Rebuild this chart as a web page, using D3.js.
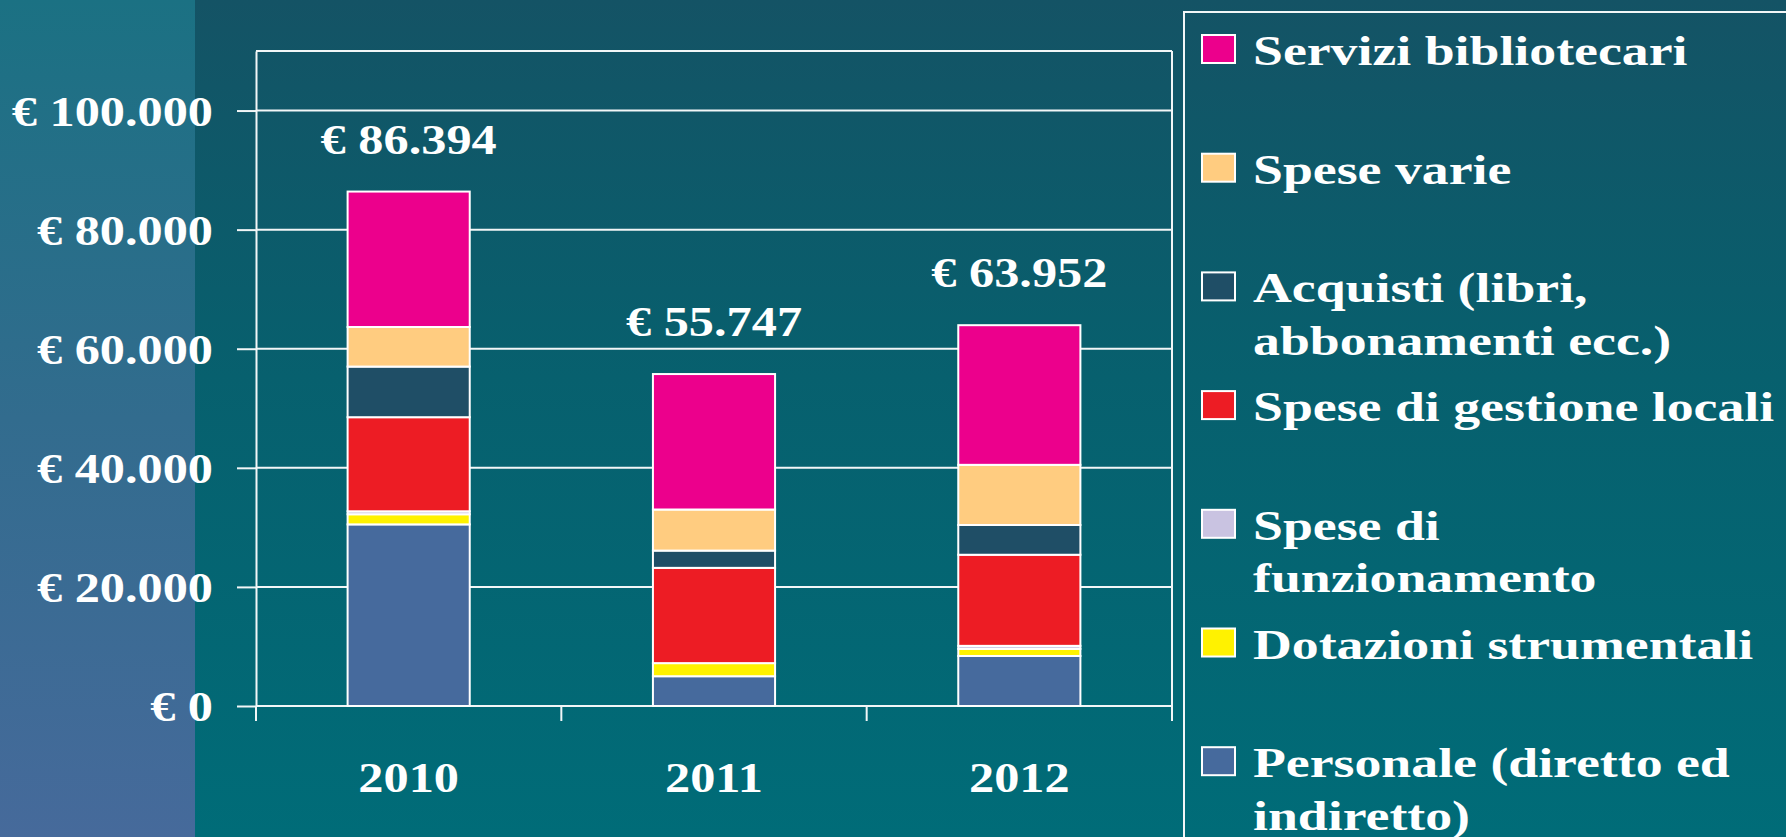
<!DOCTYPE html>
<html>
<head>
<meta charset="utf-8">
<script src="https://cdn.jsdelivr.net/npm/d3@7"></script>
<style>
  html, body { margin: 0; padding: 0; overflow: hidden; background: #0a5f6c; }
  svg text { font-family: "Liberation Serif", "Times New Roman", serif; font-weight: bold; fill: #ffffff; }
</style>
</head>
<body>
<svg id="chart" width="1786" height="837"></svg>
<script>
// Cost breakdown per year (euro)
const years = ["2010", "2011", "2012"];
const personale = [30500, 5000, 8400];
const dotazioniStrumentali = [1700, 2200, 1200];
const speseFunzionamento = [500, 0, 500];
const speseGestioneLocali = [15800, 16000, 15300];
const acquisti = [8500, 2900, 5000];
const speseVarie = [6650, 6900, 10100];
const serviziBibliotecari = [22744, 22747, 23452];

const yTicks = [0, 20000, 40000, 60000, 80000, 100000];

// stacking order, bottom to top
const seriesKeys = ["personale", "dotazioni", "funzionamento", "gestione", "acquisti", "varie", "servizi"];
const seriesValues = [personale, dotazioniStrumentali, speseFunzionamento, speseGestioneLocali, acquisti, speseVarie, serviziBibliotecari];
const seriesColors = ["#466a9d", "#fff200", "#c9c3e1", "#ed1c24", "#1f4e66", "#ffcc80", "#ec008c"];
const legendLabels = [
  ["Personale (diretto ed", "indiretto)"],
  ["Dotazioni strumentali"],
  ["Spese di", "funzionamento"],
  ["Spese di gestione locali"],
  ["Acquisti (libri,", "abbonamenti ecc.)"],
  ["Spese varie"],
  ["Servizi bibliotecari"]
];

const W = 1786, H = 837;
const plot = { left: 256, right: 1172, top: 51, bottom: 706 };
const numFont = 43, legendFont = 42;
const numStretch = 1.17, legendStretch = 1.28;

const it = d3.formatLocale({ decimal: ",", thousands: ".", grouping: [3], currency: ["€ ", ""] });
const euro = it.format("$,.0f");

const svg = d3.select("#chart");
const defs = svg.append("defs");

const bgGrad = defs.append("linearGradient").attr("id", "bg").attr("x1", 0).attr("y1", 0).attr("x2", 0).attr("y2", 1);
bgGrad.append("stop").attr("offset", "0%").attr("stop-color", "#145365");
bgGrad.append("stop").attr("offset", "45%").attr("stop-color", "#07606e");
bgGrad.append("stop").attr("offset", "100%").attr("stop-color", "#006c78");

const sideGrad = defs.append("linearGradient").attr("id", "side").attr("x1", 0).attr("y1", 0).attr("x2", 0).attr("y2", 1);
sideGrad.append("stop").attr("offset", "0%").attr("stop-color", "#1b7183");
sideGrad.append("stop").attr("offset", "50%").attr("stop-color", "#326c8e");
sideGrad.append("stop").attr("offset", "100%").attr("stop-color", "#466a9b");

svg.append("rect").attr("width", W).attr("height", H).attr("fill", "url(#bg)");
svg.append("rect").attr("width", 195).attr("height", H).attr("fill", "url(#side)");

// widen serif glyphs to the footprint of the original typeface
function stretch(sel, k) {
  sel.each(function () {
    const len = this.getComputedTextLength();
    d3.select(this).attr("textLength", len * k).attr("lengthAdjust", "spacingAndGlyphs");
  });
}

const x = d3.scaleBand().domain(years).range([plot.left, plot.right]).paddingInner(0.6).paddingOuter(0.3);
const y = d3.scaleLinear().domain([0, 110000]).range([plot.bottom, plot.top]);

// gridlines + frame
const grid = svg.append("g");
grid.selectAll("line.h").data(yTicks.concat([110000])).join("line")
  .attr("x1", plot.left).attr("x2", plot.right)
  .attr("y1", d => y(d)).attr("y2", d => y(d))
  .attr("stroke", "#f2f6f7").attr("stroke-width", 2);
grid.append("line").attr("x1", plot.right).attr("x2", plot.right)
  .attr("y1", plot.top).attr("y2", plot.bottom)
  .attr("stroke", "#f2f6f7").attr("stroke-width", 2);

// left axis
const yAxis = svg.append("g").attr("transform", `translate(${plot.left},0)`)
  .call(d3.axisLeft(y).tickValues(yTicks).tickSize(19).tickSizeOuter(0).tickPadding(24).tickFormat(euro));
yAxis.attr("font-size", null).attr("font-family", null);
yAxis.selectAll("path.domain, line").attr("stroke", "#f2f6f7").attr("stroke-width", 2);
yAxis.selectAll("text").attr("font-size", numFont).attr("dy", "0.34em").attr("fill", "#fff");
stretch(yAxis.selectAll("text"), numStretch);

// bottom axis: category labels and boundary ticks
const boundaries = d3.range(years.length + 1).map(i => x(years[0]) + x.bandwidth() / 2 - x.step() / 2 + i * x.step());
svg.append("g").selectAll("line").data(boundaries).join("line")
  .attr("x1", d => d).attr("x2", d => d)
  .attr("y1", plot.bottom).attr("y2", plot.bottom + 15)
  .attr("stroke", "#f2f6f7").attr("stroke-width", 2);

const xLabels = svg.append("g").selectAll("text").data(years).join("text")
  .attr("x", d => x(d) + x.bandwidth() / 2).attr("y", 792)
  .attr("text-anchor", "middle").attr("font-size", numFont).text(d => d);
stretch(xLabels, numStretch);

// stacked bars
const rows = years.map((yr, i) => {
  const r = { year: yr };
  seriesKeys.forEach((k, s) => r[k] = seriesValues[s][i]);
  return r;
});
const stacked = d3.stack().keys(seriesKeys)(rows);

svg.append("g").selectAll("g").data(stacked).join("g")
  .attr("fill", (d, i) => seriesColors[i])
  .selectAll("rect").data(d => d).join("rect")
  .attr("x", d => x(d.data.year)).attr("width", x.bandwidth())
  .attr("y", d => y(d[1])).attr("height", d => y(d[0]) - y(d[1]))
  .attr("stroke", "#ffffff").attr("stroke-width", 2);

// totals above bars
const topLayer = stacked[stacked.length - 1];
const totalLabels = svg.append("g").selectAll("text").data(topLayer).join("text")
  .attr("x", d => x(d.data.year) + x.bandwidth() / 2)
  .attr("y", d => y(d[1]) - 38)
  .attr("text-anchor", "middle").attr("font-size", numFont)
  .text(d => euro(d[1]));
stretch(totalLabels, numStretch);

// legend
const legend = svg.append("g");
legend.append("rect").attr("x", 1184).attr("y", 12).attr("width", 800).attr("height", 900)
  .attr("fill", "none").attr("stroke", "#f2f6f7").attr("stroke-width", 2);

const legendOrder = d3.range(seriesKeys.length).reverse();
const rowPitch = 118.7, lineGap = 52.5, firstBaseline = 65;
legendOrder.forEach((s, row) => {
  const base = firstBaseline + row * rowPitch;
  legend.append("rect").attr("x", 1202).attr("y", base - 30).attr("width", 33).attr("height", 28)
    .attr("fill", seriesColors[s]).attr("stroke", "#ffffff").attr("stroke-width", 2);
  legendLabels[s].forEach((line, j) => {
    const t = legend.append("text").attr("x", 1253).attr("y", base + j * lineGap)
      .attr("font-size", legendFont).text(line);
    stretch(t, legendStretch);
  });
});
</script>
</body>
</html>
